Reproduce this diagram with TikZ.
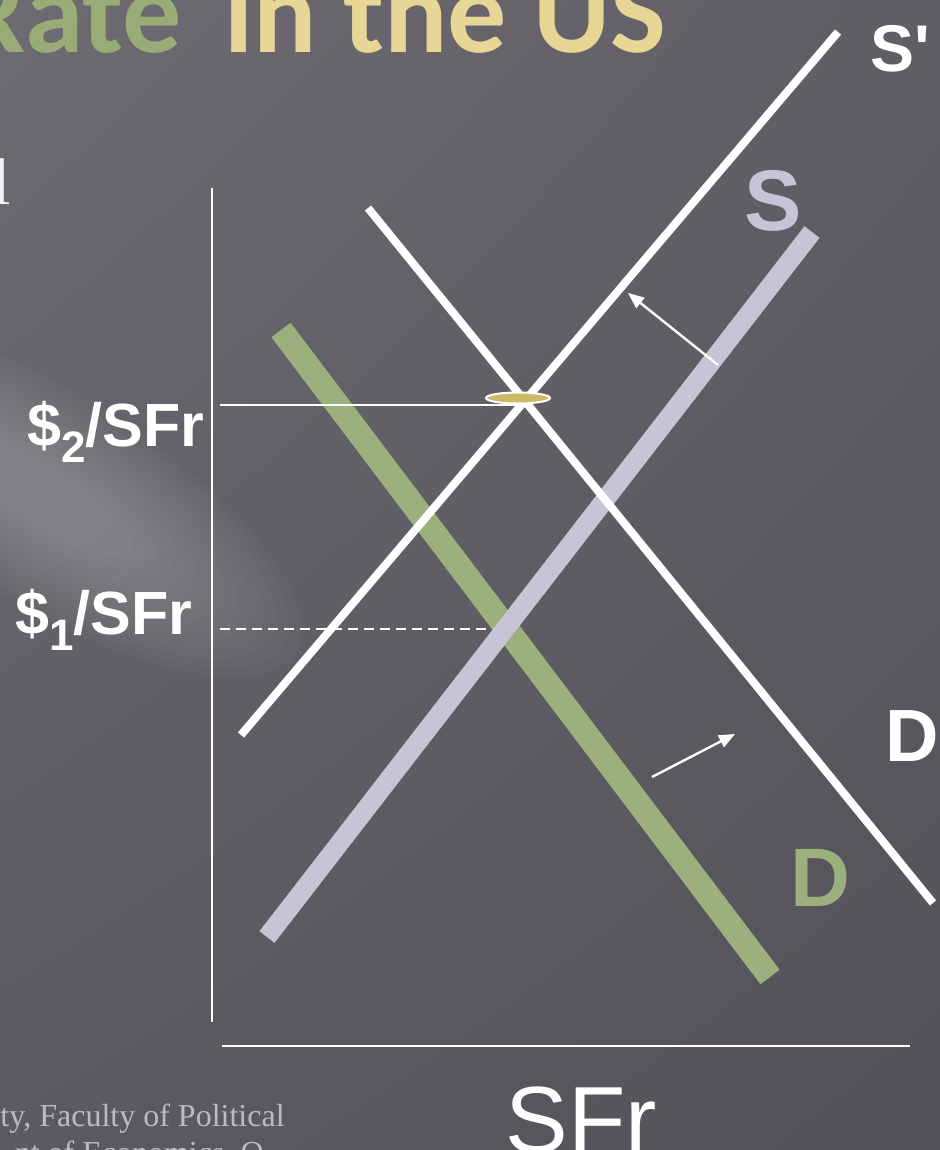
\documentclass[tikz,border=0pt]{standalone}
\usepackage{fontspec}
\setmainfont{Liberation Sans}
\newfontfamily\serfont{Liberation Serif}
\newfontfamily\ttlfont{Carlito}
\newfontfamily\plainsans{Liberation Sans}[Ligatures=TeXOff]
\usetikzlibrary{arrows.meta,shapes.geometric,shadings}
\definecolor{bgUL}{RGB}{110,108,114}
\definecolor{bgUR}{RGB}{96,94,100}
\definecolor{bgLL}{RGB}{92,90,96}
\definecolor{bgLR}{RGB}{84,82,88}
\definecolor{lav}{RGB}{200,196,214}
\definecolor{grn}{RGB}{155,176,125}
\definecolor{gold}{RGB}{205,185,100}
\definecolor{ttlgreen}{RGB}{154,172,118}
\definecolor{ttlyellow}{RGB}{232,214,150}
\definecolor{foot}{RGB}{188,188,192}
\tikzset{
  wline/.style={white, line width=4pt},
  lavline/.style={lav, line width=9.5pt},
  grnline/.style={grn, line width=12pt},
  axisline/.style={white, line width=1pt},
  shiftarrow/.style={white, line width=1.2pt, -{Triangle[length=8pt,width=6.5pt]}},
  lbl/.style={inner sep=0pt, font=\bfseries},
}
\begin{document}
\begin{tikzpicture}[x=0.5pt,y=-0.5pt]
\useasboundingbox (0,0) rectangle (940,1150);
% background
\shade[upper left=bgUL, upper right=bgUR, lower left=bgLL, lower right=bgLR] (0,0) rectangle (940,1150);
\begin{scope}[shift={(50,500)}, rotate=-32]
\foreach \k in {0,...,13}{
  \fill[white, opacity=0.02] (0,0) ellipse [x radius={290-15*\k}, y radius={105-5.8*\k}];
}
\end{scope}
% title fragments
\node[anchor=base east, inner sep=0pt, text=ttlgreen] (ttlA) at (182,53) {\ttlfont\bfseries\fontsize{59pt}{62pt}\selectfont Rate};
\node[anchor=base west, inner sep=0pt, text=ttlyellow] (ttlB) at (224,53) {\ttlfont\bfseries\fontsize{59pt}{62pt}\selectfont in the US};
\node[anchor=base east, inner sep=0pt, text=white!90!gray] (frag) at (11,205) {\serfont\fontsize{33pt}{36pt}\selectfont l};
% footer text
\node[anchor=base east, inner sep=0pt, text=foot] (ft1) at (285,1126) {\serfont\fontsize{16pt}{19pt}\selectfont ty, Faculty of Political};
\node[anchor=base east, inner sep=0pt, text=foot] (ft2) at (264,1163) {\serfont\fontsize{16pt}{19pt}\selectfont nt of Economics, Q};
% axes
\coordinate (ya) at (212,188); \coordinate (yb) at (212,1022);
\coordinate (xa) at (222,1046); \coordinate (xb) at (910,1046);
\draw[axisline] (ya) -- (yb);
\draw[axisline] (xa) -- (xb);
% curves
\coordinate (D1) at (281,330); \coordinate (D2) at (770,977);
\coordinate (S1) at (267,937); \coordinate (S2) at (812,232);
\coordinate (Sp1) at (241,735); \coordinate (Sp2) at (838,32);
\coordinate (Dp1) at (368,208); \coordinate (Dp2) at (933,903);
\draw[grnline] (D1) -- (D2);
\draw[lavline] (S1) -- (S2);
\draw[wline] (Sp1) -- (Sp2);
\draw[wline] (Dp1) -- (Dp2);
% price levels
\coordinate (p2a) at (220,405); \coordinate (p2b) at (524,405);
\coordinate (p1a) at (220,629); \coordinate (p1b) at (490,629);
\draw[white, line width=1pt] (p2a) -- (p2b);
\draw[white, line width=1pt, dash pattern=on 5pt off 3pt] (p1a) -- (p1b);
\node[ellipse, draw=white, line width=1pt, fill=gold, minimum width=32pt, minimum height=5.5pt, inner sep=0pt] (eq) at (518,398) {};
% shift arrows
\coordinate (A1s) at (718,365); \coordinate (A1e) at (628,293);
\coordinate (A2s) at (652,777); \coordinate (A2e) at (735,734);
\draw[shiftarrow] (A1s) -- (A1e);
\draw[shiftarrow] (A2s) -- (A2e);
% labels
\node[lbl, anchor=base east, text=white] (l2) at (205,446) {\fontsize{30.5pt}{33pt}\selectfont \$\raisebox{-0.27em}{\fontsize{22pt}{24pt}\selectfont 2}/SFr};
\node[lbl, anchor=base east, text=white] (l1) at (193,634) {\fontsize{30.5pt}{33pt}\selectfont \$\raisebox{-0.27em}{\fontsize{22pt}{24pt}\selectfont 1}/SFr};
\node[inner sep=0pt, anchor=base west, text=white] (lSp) at (870,72) {\plainsans\bfseries\fontsize{33pt}{36pt}\selectfont S'};
\node[lbl, anchor=base west, text=lav] (lS) at (744,231) {\fontsize{43pt}{46pt}\selectfont S};
\node[lbl, anchor=base west, text=white] (lDp) at (885,761) {\fontsize{37pt}{40pt}\selectfont D};
\node[lbl, anchor=base west, text=grn] (lD) at (790,906) {\fontsize{41.5pt}{46pt}\selectfont D};
\node[inner sep=0pt, anchor=base west, text=white] (lx) at (505,1152) {\fontsize{47pt}{50pt}\selectfont SFr};
\end{tikzpicture}
\end{document}
